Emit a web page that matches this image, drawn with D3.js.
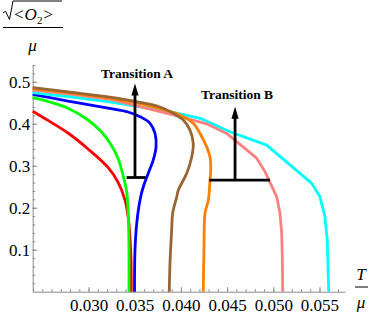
<!DOCTYPE html>
<html>
<head>
<meta charset="utf-8">
<script src="https://cdn.jsdelivr.net/npm/d3@7"></script>
<style>
body { margin: 0; background: #fff; }
svg { display: block; }
</style>
</head>
<body>
<div id="graph"></div>
<script>
// curves: [T/mu, sqrt(<O2>)/mu]
var red = [[0.02396,0.430],[0.02562,0.408],[0.02778,0.378],[0.02995,0.340],[0.03211,0.296],
    [0.03319,0.261],[0.03395,0.218],[0.03431,0.175],[0.03449,0.128],[0.03460,0.075],[0.03463,0]];
var green = [[0.02396,0.463],[0.02562,0.453],[0.02778,0.437],[0.02995,0.409],[0.03139,0.381],
    [0.03247,0.349],[0.03319,0.318],[0.03373,0.278],[0.03413,0.238],[0.03431,0.179],[0.03438,0.099],[0.03438,0]];
var blue = [[0.02396,0.470],[0.02778,0.454],[0.03211,0.437],[0.03427,0.428],[0.03557,0.417],
    [0.03666,0.401],[0.03720,0.377],[0.03731,0.345],[0.03701,0.314],[0.03647,0.282],[0.03593,0.250],
    [0.03557,0.218],[0.03522,0.163],[0.03503,0.099],[0.03498,0]];
var brown = [[0.02396,0.486],[0.02778,0.476],[0.03211,0.464],[0.03557,0.451],[0.03774,0.440],
    [0.03918,0.425],[0.04026,0.409],[0.04098,0.385],[0.04134,0.353],[0.04117,0.321],[0.04063,0.282],
    [0.03972,0.242],[0.03955,0.226],[0.03911,0.187],[0.03900,0.147],[0.03882,0.068],[0.03874,0]];
var orange = [[0.02396,0.484],[0.02778,0.474],[0.03211,0.462],[0.03557,0.448],[0.03774,0.436],
    [0.03990,0.421],[0.04134,0.401],[0.04207,0.377],[0.04279,0.345],[0.04315,0.321],[0.04323,0.290],
    [0.04315,0.266],[0.04297,0.218],[0.04261,0.187],[0.04250,0.107],[0.04242,0]];
var pink = [[0.02396,0.480],[0.02778,0.471],[0.03211,0.459],[0.03557,0.441],[0.03918,0.421],
    [0.04279,0.400],[0.04495,0.377],[0.04820,0.318],[0.04910,0.286],[0.05037,0.226],[0.05072,0.187],
    [0.05091,0.139],[0.05097,0.083],[0.05102,0]];
var cyan = [[0.02396,0.474],[0.02778,0.465],[0.03211,0.453],[0.03557,0.440],[0.03918,0.427],
    [0.04207,0.413],[0.04531,0.381],[0.04929,0.349],[0.05416,0.258],[0.05505,0.226],[0.05559,0.179],
    [0.05584,0.123],[0.05600,0]];

// transition markers: stem x, bar from/to, bar level, arrow tip
var transitionNames = ["Transition A", "Transition B"];
var stemT = [0.03503, 0.04586];
var barFrom = [0.03413, 0.04307];
var barTo = [0.03619, 0.04964];
var barLevel = [0.272, 0.266];
var tipLevel = [0.496, 0.4405];

var xTickValues = [0.030, 0.035, 0.040, 0.045, 0.050, 0.055];
var yTickValues = [0.1, 0.2, 0.3, 0.4, 0.5];

var width = 374, height = 319;

var x = d3.scaleLinear().domain([0.02396, 0.05776]).range([32.7, 345]);
var y = d3.scaleLinear().domain([0, 0.54]).range([291.7, 65]);

var svg = d3.select("#graph").append("svg")
    .attr("width", width)
    .attr("height", height);

var serif = "'Liberation Serif', 'Times New Roman', serif";
var axisColor = "#8a8a8a";

// minor ticks
svg.append("g")
    .attr("transform", "translate(0," + y(0) + ")")
    .call(d3.axisBottom(x)
        .tickValues(d3.range(0.024, 0.0575, 0.001))
        .tickSize(-2.5)
        .tickFormat(""))
    .call(function(g) { g.select(".domain").remove(); })
    .selectAll("line").attr("stroke", axisColor);
svg.append("g")
    .attr("transform", "translate(" + x.range()[0] + ",0)")
    .call(d3.axisLeft(y)
        .tickValues(d3.range(0.02, 0.541, 0.02))
        .tickSize(-2.5)
        .tickFormat(""))
    .call(function(g) { g.select(".domain").remove(); })
    .selectAll("line").attr("stroke", axisColor);

// X and Y axis
var xAxis = svg.append("g")
    .attr("transform", "translate(0," + y(0) + ")")
    .call(d3.axisBottom(x)
        .tickValues(xTickValues)
        .tickSizeInner(-4.5)
        .tickSizeOuter(0)
        .tickPadding(7.5)
        .tickFormat(d3.format(".3f")));
var yAxis = svg.append("g")
    .attr("transform", "translate(" + x.range()[0] + ",0)")
    .call(d3.axisLeft(y)
        .tickValues(yTickValues)
        .tickSizeInner(-4.5)
        .tickSizeOuter(0)
        .tickPadding(2.5)
        .tickFormat(d3.format(".1f")));
[xAxis, yAxis].forEach(function(g) {
    g.select(".domain").attr("stroke", axisColor);
    g.selectAll(".tick line").attr("stroke", axisColor);
    g.selectAll("text")
        .attr("fill", "#000")
        .style("font-family", serif)
        .style("font-size", "17px");
});

// curves
var lineGenerator = d3.line()
    .x(function(d) { return x(d[0]); })
    .y(function(d) { return y(d[1]); });

var series = [
    {pts: red, color: "#ff0000", curve: d3.curveCatmullRom},
    {pts: green, color: "#00ff00", curve: d3.curveCatmullRom},
    {pts: blue, color: "#0000ff", curve: d3.curveCatmullRom},
    {pts: cyan, color: "#00ffff", curve: d3.curveLinear},
    {pts: pink, color: "#ff8080", curve: d3.curveLinear},
    {pts: orange, color: "#ff8000", curve: d3.curveCatmullRom},
    {pts: brown, color: "#996633", curve: d3.curveCatmullRom}
];
series.forEach(function(s) {
    svg.append("path")
        .attr("d", lineGenerator.curve(s.curve)(s.pts))
        .attr("fill", "none")
        .attr("stroke", s.color)
        .attr("stroke-width", 2.8)
        .attr("stroke-linejoin", "round");
});

// transition arrows
transitionNames.forEach(function(name, i) {
    var sx = x(stemT[i]), by = y(barLevel[i]), ty = y(tipLevel[i]);
    svg.append("line")
        .attr("x1", x(barFrom[i])).attr("x2", x(barTo[i]))
        .attr("y1", by).attr("y2", by)
        .attr("stroke", "#000").attr("stroke-width", 2.8);
    svg.append("line")
        .attr("x1", sx).attr("x2", sx)
        .attr("y1", by).attr("y2", ty + 10)
        .attr("stroke", "#000").attr("stroke-width", 2.8);
    svg.append("path")
        .attr("d", "M" + sx + "," + ty + "L" + (sx + 3.6) + "," + (ty + 12) +
            "L" + (sx - 3.6) + "," + (ty + 12) + "Z")
        .attr("fill", "#000");
    svg.append("text")
        .attr("x", sx + 2)
        .attr("y", ty - 5.5 - i * 2.5)
        .attr("text-anchor", "middle")
        .style("font-family", serif)
        .style("font-size", "13.5px")
        .style("font-weight", "bold")
        .text(name);
});

// axis labels
var yLab = svg.append("g").attr("fill", "#000").style("font-family", serif);
yLab.append("path")
    .attr("d", "M3,13 L5.5,11.2 L9.5,19.5 L13,1 L62,1")
    .attr("fill", "none")
    .attr("stroke", "#000")
    .attr("stroke-width", 1);
var ot = yLab.append("text").attr("x", 14).attr("y", 19.5).style("font-size", "17px");
ot.append("tspan").text("<");
ot.append("tspan").attr("dx", 1).style("font-style", "italic").text("O");
ot.append("tspan").attr("dy", 4).style("font-size", "11px").text("2");
ot.append("tspan").attr("dy", -4).attr("dx", 1).text(">");
yLab.append("line")
    .attr("x1", 3).attr("x2", 63).attr("y1", 27.5).attr("y2", 27.5)
    .attr("stroke", "#000").attr("stroke-width", 1);
yLab.append("text")
    .attr("x", 32.5).attr("y", 51)
    .attr("text-anchor", "middle")
    .style("font-size", "17px").style("font-style", "italic")
    .text("μ");

var xLab = svg.append("g").attr("fill", "#000").style("font-family", serif);
xLab.append("text")
    .attr("x", 361).attr("y", 280)
    .attr("text-anchor", "middle")
    .style("font-size", "17px").style("font-style", "italic")
    .text("T");
xLab.append("line")
    .attr("x1", 355).attr("x2", 368).attr("y1", 287).attr("y2", 287)
    .attr("stroke", "#000").attr("stroke-width", 1);
xLab.append("text")
    .attr("x", 361).attr("y", 308)
    .attr("text-anchor", "middle")
    .style("font-size", "17px").style("font-style", "italic")
    .text("μ");
</script>
</body>
</html>
